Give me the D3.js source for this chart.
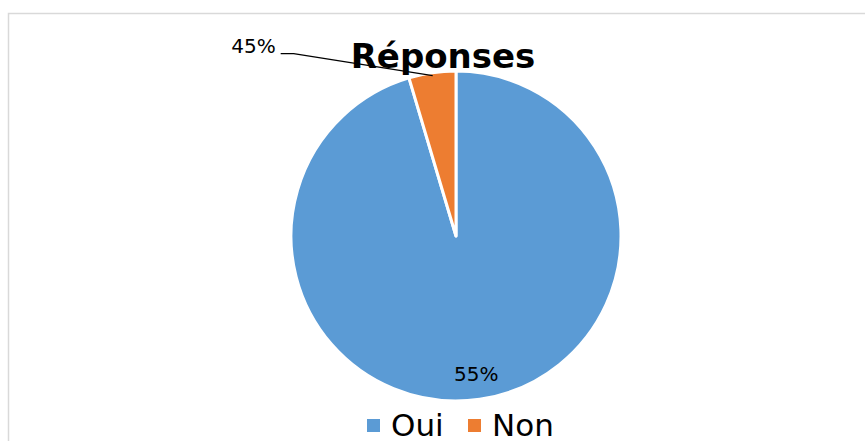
<!DOCTYPE html>
<html>
<head>
<meta charset="utf-8">
<script src="https://cdn.jsdelivr.net/npm/d3@7"></script>
<style>
  body { margin: 0; background: #fff; }
  svg { display: block; font-family: "DejaVu Sans", Verdana, sans-serif; }
</style>
</head>
<body>
<svg width="865" height="441"></svg>
<script>
(function () {

    // data (slice sizes as drawn, labels as printed)
    var categories = ["Oui", "Non"];
    var values = [95.4, 4.6];
    var labels = ["55%", "45%"];
    var colors = ["#5B9BD5", "#ED7D31"];
    var title = "Réponses";

    var svg = d3.select("svg"),
        width = +svg.attr("width"),
        height = +svg.attr("height");

    var cx = 456, cy = 236, radius = 165;

    // chart frame
    svg.append("rect")
        .attr("x", 8.5)
        .attr("y", 13.5)
        .attr("width", width)
        .attr("height", height)
        .attr("fill", "none")
        .attr("stroke", "#d9d9d9")
        .attr("stroke-width", 1.5);

    var color = d3.scaleOrdinal().domain(categories).range(colors);

    var pie = d3.pie().sort(null).value(function (d) { return d.value; });
    var data = categories.map(function (c, i) {
        return { name: c, value: values[i], label: labels[i] };
    });
    var arcs = pie(data);

    var arc = d3.arc().innerRadius(0).outerRadius(radius);
    var labelArc = d3.arc().innerRadius(141).outerRadius(141);
    var edgeArc = d3.arc().innerRadius(radius - 3).outerRadius(radius - 3);

    var g = svg.append("g").attr("transform", "translate(" + cx + "," + cy + ")");

    g.selectAll(".slice")
        .data(arcs)
        .enter().append("path")
        .attr("class", "slice")
        .attr("d", arc)
        .attr("fill", function (d) { return color(d.data.name); })
        .attr("stroke", "#fff")
        .attr("stroke-width", 3)
        .attr("stroke-linejoin", "round");

    // big slice: label inside
    var big = arcs[0];
    var p = labelArc.centroid(big);
    g.append("text")
        .attr("x", p[0])
        .attr("y", p[1])
        .attr("text-anchor", "middle")
        .attr("dominant-baseline", "middle")
        .attr("font-size", 20)
        .attr("fill", "#000")
        .text(big.data.label);

    // small slice: label outside with leader line
    var small = arcs[1];
    var e = edgeArc.centroid(small);
    var elbow = [e[0] - 139, e[1] - 22];
    g.append("polyline")
        .attr("points", [[e[0], e[1]], elbow, [elbow[0] - 13, elbow[1]]].map(function (q) { return q.join(","); }).join(" "))
        .attr("fill", "none")
        .attr("stroke", "#000")
        .attr("stroke-width", 1.2);

    g.append("text")
        .attr("x", elbow[0] - 18)
        .attr("y", elbow[1] - 1)
        .attr("text-anchor", "end")
        .attr("font-size", 20)
        .attr("fill", "#000")
        .text(small.data.label);

    // title
    svg.append("text")
        .attr("x", 443)
        .attr("y", 68)
        .attr("text-anchor", "middle")
        .attr("font-size", 34)
        .attr("font-weight", "bold")
        .attr("fill", "#000")
        .text(title);

    // legend
    var legend = svg.append("g").attr("transform", "translate(367,436)");
    var offsets = [0, 101];
    var item = legend.selectAll(".item")
        .data(categories)
        .enter().append("g")
        .attr("class", "item")
        .attr("transform", function (d, i) { return "translate(" + offsets[i] + ",0)"; });

    item.append("rect")
        .attr("x", 0)
        .attr("y", -17)
        .attr("width", 13)
        .attr("height", 13)
        .attr("fill", function (d) { return color(d); });

    item.append("text")
        .attr("x", 24)
        .attr("y", 0)
        .attr("font-size", 31)
        .attr("fill", "#000")
        .text(function (d) { return d; });

})();
</script>
</body>
</html>
